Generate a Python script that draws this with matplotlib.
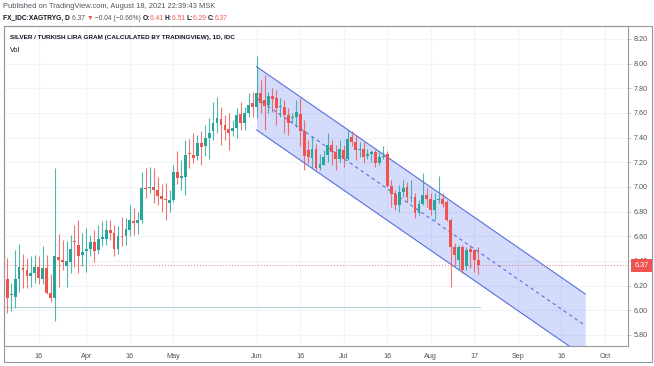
import numpy as np
import pandas as pd
import matplotlib
matplotlib.use('Agg')
import matplotlib.pyplot as plt
from matplotlib.patches import Rectangle

plt.rcParams['font.family'] = ['Liberation Sans', 'DejaVu Sans']

# daily bars, XAG/TRY gram, 2021-03-03 .. 2021-08-18 (business days)
dates = pd.bdate_range('2021-03-03', '2021-08-18')
opens = [6.31, 6.25, 6.12, 6.11, 6.25, 6.34, 6.33, 6.28, 6.30, 6.35,
         6.25, 6.34, 6.14, 6.10, 6.43, 6.41, 6.36, 6.39, 6.56, 6.53,
         6.45, 6.48, 6.50, 6.55, 6.49, 6.575, 6.58, 6.65, 6.63, 6.50,
         6.60, 6.60, 6.65, 6.72, 6.71, 6.73, 6.99, 6.99, 7.00, 6.975,
         6.93, 6.905, 6.87, 6.89, 7.12, 7.07, 7.08, 7.27, 7.26, 7.25,
         7.36, 7.33, 7.395, 7.45, 7.52, 7.55, 7.50, 7.47, 7.45, 7.48,
         7.59, 7.52, 7.60, 7.68, 7.65, 7.765, 7.705, 7.665, 7.74, 7.72,
         7.645, 7.65, 7.585, 7.555, 7.57, 7.59, 7.45, 7.30, 7.235, 7.31,
         7.155, 7.18, 7.26, 7.34, 7.285, 7.23, 7.30, 7.23, 7.405, 7.365,
         7.30, 7.305, 7.25, 7.265, 7.28, 7.19, 7.24, 7.27, 7.01, 6.945,
         6.855, 6.955, 7.00, 6.91, 6.92, 6.79, 6.865, 6.935, 6.905, 6.815,
         6.89, 6.90, 6.88, 6.73, 6.51, 6.41, 6.51, 6.355, 6.495, 6.49,
         6.41]
highs = [6.35, 6.42, 6.22, 6.49, 6.54, 6.46, 6.42, 6.44, 6.45, 6.44,
         6.52, 6.45, 6.29, 7.15, 6.62, 6.57, 6.56, 6.61, 6.69, 6.73,
         6.63, 6.67, 6.61, 6.65, 6.69, 6.72, 6.73, 6.73, 6.69, 6.68,
         6.76, 6.75, 6.85, 6.83, 6.80, 7.12, 7.15, 7.16, 7.15, 7.08,
         7.02, 7.03, 6.975, 7.18, 7.29, 7.22, 7.38, 7.39, 7.435, 7.42,
         7.45, 7.50, 7.56, 7.69, 7.73, 7.65, 7.58, 7.60, 7.54, 7.64,
         7.69, 7.65, 7.76, 7.77, 8.06, 7.87, 7.91, 7.77, 7.80, 7.79,
         7.72, 7.705, 7.64, 7.60, 7.705, 7.72, 7.54, 7.38, 7.41, 7.35,
         7.27, 7.30, 7.435, 7.38, 7.34, 7.38, 7.34, 7.46, 7.45, 7.42,
         7.365, 7.365, 7.31, 7.30, 7.30, 7.285, 7.33, 7.29, 7.056, 6.975,
         7.016, 7.056, 7.043, 7.056, 6.95, 6.895, 7.11, 6.99, 6.95, 6.95,
         7.085, 6.95, 6.895, 6.745, 6.545, 6.53, 6.53, 6.515, 6.53, 6.50,
         6.51]
lows = [6.23, 5.98, 5.99, 6.02, 6.15, 6.18, 6.18, 6.19, 6.22, 6.21,
        6.21, 6.13, 6.07, 5.91, 6.19, 6.33, 6.19, 6.30, 6.35, 6.30,
        6.36, 6.31, 6.44, 6.39, 6.46, 6.52, 6.53, 6.57, 6.44, 6.46,
        6.52, 6.53, 6.60, 6.61, 6.62, 6.71, 6.91, 6.95, 6.87, 6.85,
        6.80, 6.73, 6.80, 6.88, 7.02, 6.975, 6.935, 7.15, 7.19, 7.22,
        7.18, 7.25, 7.23, 7.38, 7.435, 7.34, 7.38, 7.30, 7.41, 7.395,
        7.46, 7.46, 7.57, 7.57, 7.56, 7.60, 7.46, 7.60, 7.61, 7.50,
        7.57, 7.435, 7.42, 7.515, 7.49, 7.33, 7.14, 7.19, 7.15, 7.14,
        7.14, 7.175, 7.205, 7.18, 7.14, 7.205, 7.165, 7.22, 7.33, 7.22,
        7.245, 7.19, 7.23, 7.205, 7.165, 7.175, 7.23, 7.00, 6.84, 6.81,
        6.80, 6.92, 6.88, 6.88, 6.745, 6.77, 6.855, 6.84, 6.77, 6.73,
        6.87, 6.84, 6.72, 6.19, 6.355, 6.33, 6.30, 6.33, 6.34, 6.31,
        6.29]
closes = [6.25, 6.10, 6.13, 6.25, 6.35, 6.33, 6.28, 6.30, 6.35, 6.26,
          6.34, 6.14, 6.10, 6.44, 6.41, 6.39, 6.40, 6.50, 6.55, 6.44,
          6.47, 6.50, 6.55, 6.48, 6.58, 6.59, 6.65, 6.63, 6.50, 6.60,
          6.59, 6.66, 6.73, 6.71, 6.73, 6.99, 6.98, 7.00, 6.975, 6.93,
          6.905, 6.89, 6.895, 7.12, 7.07, 7.085, 7.26, 7.265, 7.235, 7.36,
          7.32, 7.40, 7.44, 7.52, 7.56, 7.50, 7.46, 7.44, 7.48, 7.585,
          7.52, 7.60, 7.665, 7.645, 7.765, 7.68, 7.66, 7.74, 7.71, 7.64,
          7.655, 7.585, 7.52, 7.57, 7.61, 7.45, 7.25, 7.245, 7.31, 7.15,
          7.185, 7.245, 7.34, 7.28, 7.23, 7.31, 7.225, 7.385, 7.365, 7.30,
          7.31, 7.245, 7.27, 7.28, 7.19, 7.24, 7.25, 7.01, 6.945, 6.855,
          6.96, 6.995, 6.92, 6.92, 6.785, 6.865, 6.935, 6.905, 6.815, 6.895,
          6.90, 6.865, 6.73, 6.515, 6.45, 6.51, 6.33, 6.49, 6.475, 6.41,
          6.37]

vol_line = 6.027
last_price = 6.37

# parallel channel
ch_dates = ['2021-06-01', '2021-09-24']
ch_upper = [7.975, 6.132]
ch_lower = [7.462, 5.619]

tick_dates = ['2021-03-16', '2021-04-01', '2021-04-16', '2021-05-03', '2021-06-01',
              '2021-06-16', '2021-07-01', '2021-07-16', '2021-08-02', '2021-08-17',
              '2021-09-01', '2021-09-16', '2021-10-01']
tick_labels = ['16', 'Apr', '16', 'May', 'Jun', '16', 'Jul', '16', 'Aug', '17', 'Sep', '16', 'Oct']
price_ticks = [5.8, 6.0, 6.2, 6.4, 6.6, 6.8, 7.0, 7.2, 7.4, 7.6, 7.8, 8.0, 8.2]

up_c = '#26a69a'
dn_c = '#ef5350'

all_days = pd.bdate_range('2021-03-03', '2021-10-29')
def xpos(d):
    return all_days.get_loc(pd.Timestamp(d))

o = np.array(opens); h = np.array(highs); l = np.array(lows); c = np.array(closes)
x = np.arange(len(dates))
cols = np.where(c >= o, up_c, dn_c)

fig = plt.figure(figsize=(6.54, 3.66), dpi=100)
ax = fig.add_axes([4/654, 20/366, 624/654, 320/366])

for yv in price_ticks:
    ax.axhline(yv, color='#f0f3fa', lw=0.8, zorder=0)
for d in tick_dates:
    ax.axvline(xpos(d), color='#f0f3fa', lw=0.8, zorder=0)

# channel
cx = [xpos(d) for d in ch_dates]
ax.fill_between(cx, ch_lower, ch_upper, color='#3d5cf0', alpha=0.22, lw=0, zorder=1)
ax.plot(cx, ch_upper, color='#5a6fdc', lw=0.8, zorder=2)
ax.plot(cx, ch_lower, color='#5a6fdc', lw=0.8, zorder=2)
ax.plot(cx, [(a + b) / 2 for a, b in zip(ch_upper, ch_lower)], color='#5a6fdc', lw=0.8,
        ls=(0, (3, 3)), zorder=2)

# volume baseline and last price line
ax.plot([x[0] - 0.5, x[-1] + 0.5], [vol_line, vol_line], color='#bcd3d6', lw=0.8, zorder=2)
ax.axhline(last_price, color=dn_c, lw=0.7, ls=(0, (1, 2)), alpha=0.8, zorder=2)

ax.vlines(x, l, h, colors=cols, lw=0.8, alpha=0.8, zorder=3)
body = np.maximum(np.abs(c - o), 0.01)
ax.bar(x, body, bottom=np.minimum(o, c), width=0.72, color=cols, lw=0, zorder=4)

ax.set_xlim(0.2, 157.8)
ax.set_ylim(5.71, 8.305)

ax.set_xticks([xpos(d) for d in tick_dates])
ax.set_xticklabels(tick_labels)
ax.yaxis.tick_right()
ax.set_yticks(price_ticks)
ax.set_yticklabels(['%.2f' % p for p in price_ticks])
ax.tick_params(axis='both', labelsize=5.2, colors='#50535e', length=2, width=0.5)
ax.tick_params(axis='x', pad=5, length=0)
ax.tick_params(axis='y', pad=2, color='#b2b5be')
for s in ax.spines.values():
    s.set_color('#9598a1')
    s.set_linewidth(0.8)

# last price label on the scale
ax.annotate('6.37', xy=(1, last_price), xycoords=('axes fraction', 'data'),
            xytext=(4.5, -0.6), textcoords='offset points', ha='left', va='center',
            fontsize=5.2, color='white',
            bbox=dict(boxstyle='square,pad=0.45', fc=dn_c, ec='none'), zorder=10)

# outer frame
fig.patches.append(Rectangle((4/654, 4/366), 648/654, 336/366, transform=fig.transFigure,
                             fill=False, ec='#9598a1', lw=0.8))

ax.text(0.009, 0.965, 'SILVER / TURKISH LIRA GRAM (CALCULATED BY TRADINGVIEW), 1D, IDC',
        transform=ax.transAxes, fontsize=4.6, fontweight='bold', color='#131722', va='center')
ax.text(0.009, 0.925, 'Vol', transform=ax.transAxes, fontsize=5.2, color='#131722', va='center')

fig.text(3/654, 1 - 7/366, 'Published on TradingView.com, August 18, 2021 22:39:43 MSK',
         fontsize=5.4, color='#50535e', va='center')

parts = [('FX_IDC:XAGTRYG, D ', '#131722', 'bold'), ('6.37 ', '#50535e', 'normal'),
         ('\u25bc', dn_c, 'normal'), (' \u22120.04 (\u22120.66%) ', '#50535e', 'normal'),
         ('O:', '#131722', 'bold'), ('6.41 ', dn_c, 'normal'),
         ('H:', '#131722', 'bold'), ('6.51 ', dn_c, 'normal'),
         ('L:', '#131722', 'bold'), ('6.29 ', dn_c, 'normal'),
         ('C:', '#131722', 'bold'), ('6.37', dn_c, 'normal')]
t = fig.text(3/654, 1 - 18/366, parts[0][0], fontsize=4.8, color=parts[0][1],
             fontweight=parts[0][2], va='center')
for s, col, w in parts[1:]:
    t = ax.annotate(s, xy=(1, 0.5), xycoords=t, va='center', ha='left', fontsize=4.8,
                    color=col, fontweight=w, annotation_clip=False)

fig.savefig('out.png', dpi=100)
